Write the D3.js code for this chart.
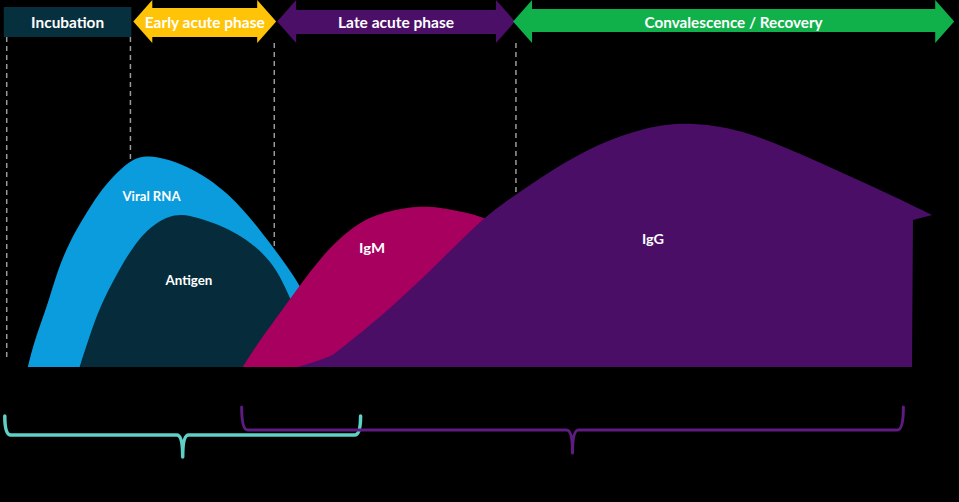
<!DOCTYPE html>
<html>
<head>
<meta charset="utf-8">
<script src="https://cdn.jsdelivr.net/npm/d3@7"></script>
<style>
  html, body { margin: 0; padding: 0; background: #000; }
  svg { display: block; }
  text { font-family: Lato, "Open Sans", sans-serif; font-weight: 700; fill: #fff; }
</style>
</head>
<body>
<svg id="chart" width="959" height="502"></svg>
<script>
// ---------- DATA (time units 0-100, level units 0-100) ----------
const seriesNames = ["Viral RNA", "Antigen", "IgM", "IgG"];

const viralRNA = [[2.9,0],[3.6,10.8],[4.9,24],[5.9,37.6],[7.3,50.8],[9.4,64],[10.6,71],[12.2,78],[13.9,83.5],[15.6,85],[19.5,81],[23.9,70],[27.6,52.5],[30.0,40],[31.3,32.5],[32.5,22.8]];
const viralRNATail = [[32.5,0]];

const antigen = [[8.3,0],[9.2,10.8],[10.4,24],[12.2,37.6],[14.3,50.8],[16.0,57],[17.7,60.5],[19.5,61.5],[24.3,55],[27.1,47],[28.9,38.8],[30.0,29.6],[31.3,18.8],[32.1,8.8]];
const antigenTail = [[32.1,0]];

const igM = [[25.3,0],[27.1,10.8],[29.2,21.6],[31.8,35.6],[34.4,48],[36.5,55],[38.6,60.5],[42.8,64.5],[45.9,64],[48.3,62],[50.4,60],[52.7,55.6]];
const igMTail = [[52.7,0]];

const igG = [[31.0,0],[32.8,2],[34.7,4.8],[34.7,4.8],[39.6,19.6],[44.8,38],[50.4,60],[53.8,69],[60.5,86.5],[67.5,96.5],[72.3,98],[77.9,94.5],[84.8,83],[91.8,70.8],[97.2,60.8],[97.2,60.8]];
const igGTail = [[95.2,58.8],[95.1,0]];

// phase header (time units)
const phaseNames = ["Incubation", "Early acute phase", "Late acute phase", "Convalescence / Recovery"];
const phaseStart = [0.4, 13.9, 28.9, 53.5];
const phaseEnd   = [13.7, 28.8, 53.7, 99.5];

// dashed phase boundaries (time units)
const boundaries = [0.7, 13.6, 28.6, 53.8];

// detection windows (brackets, time units)
const windowStart = [0.5, 25.2];
const windowEnd   = [37.6, 94.2];

// ---------- LAYOUT / STYLE ----------
const W = 959, H = 502;
const x = d3.scaleLinear().domain([0, 100]).range([0, W]);
const y = d3.scaleLinear().domain([0, 100]).range([367, 117]);

const seriesColors = ["#0A9CDC", "#062B3A", "#A8005F", "#4A0E67"];
const seriesLabelPos = [[15.8, 66.4], [19.7, 32.8], [38.8, 45.6], [68.1, 49.2]];
const seriesLabelWidth = [58, 47, 26, 22];

const phaseColors = ["#06303E", "#FFC408", "#4C0F68", "#10B14B"];
const phaseShaft = [[7, 37], [8, 37], [10, 34], [9, 32]];
const phaseTextWidth = [73, 120, 116, 178];

const svg = d3.select("#chart");
svg.append("rect").attr("width", W).attr("height", H).attr("fill", "#000");

// dashed lines (behind shapes)
const dashTop = [37, 37, 43, 43];
svg.append("g").selectAll("line").data(boundaries).join("line")
  .attr("x1", d => x(d)).attr("x2", d => x(d))
  .attr("y1", (d, i) => dashTop[i]).attr("y2", y(2.8))
  .attr("stroke", "#9A9A9A").attr("stroke-width", 1.5)
  .attr("stroke-dasharray", "5,4");

// areas
const line = d3.line().x(d => x(d[0])).y(d => y(d[1])).curve(d3.curveBasis);
function shape(pts, tail) {
  let p = line(pts);
  tail.forEach(t => { p += "L" + x(t[0]) + "," + y(t[1]); });
  return p + "Z";
}
const series = [[viralRNA, viralRNATail], [antigen, antigenTail], [igM, igMTail], [igG, igGTail]];
svg.append("g").selectAll("path").data(series).join("path")
  .attr("d", d => shape(d[0], d[1]))
  .attr("fill", (d, i) => seriesColors[i]);

svg.append("g").selectAll("text").data(seriesNames).join("text")
  .attr("x", (d, i) => x(seriesLabelPos[i][0]))
  .attr("y", (d, i) => y(seriesLabelPos[i][1]))
  .attr("text-anchor", "middle")
  .attr("font-size", 13.5)
  .attr("textLength", (d, i) => seriesLabelWidth[i])
  .attr("lengthAdjust", "spacingAndGlyphs")
  .text(d => d);

// phase header
const head = 19;
const hg = svg.append("g");
phaseNames.forEach((name, i) => {
  const x0 = x(phaseStart[i]), x1 = x(phaseEnd[i]);
  const [s0, s1] = phaseShaft[i];
  if (i === 0) {
    hg.append("rect").attr("x", x0).attr("y", s0).attr("width", x1 - x0).attr("height", s1 - s0)
      .attr("fill", phaseColors[i]);
  } else {
    const top = 0, bot = 43, mid = (top + bot) / 2;
    const pts = [[x0, mid], [x0 + head, top], [x0 + head, s0], [x1 - head, s0], [x1 - head, top],
                 [x1, mid], [x1 - head, bot], [x1 - head, s1], [x0 + head, s1], [x0 + head, bot]];
    hg.append("path").attr("d", "M" + pts.map(p => p.join(",")).join("L") + "Z")
      .attr("fill", phaseColors[i]);
  }
  hg.append("text")
    .attr("x", (x0 + x1) / 2).attr("y", 27.5)
    .attr("text-anchor", "middle").attr("font-size", 15)
    .attr("textLength", phaseTextWidth[i]).attr("lengthAdjust", "spacingAndGlyphs")
    .text(name);
});

// brackets
const bracketColors = ["#5ED0C5", "#5E1B82"];
const bracketTop = [416, 407], bracketMid = [435, 430], bracketTip = [457, 453], bracketW = [3.5, 3];
windowStart.forEach((s, i) => {
  const x0 = x(s), x1 = x(windowEnd[i]), cx = (x0 + x1) / 2;
  const t = bracketTop[i], h = bracketMid[i], tip = bracketTip[i];
  const p = `M${x0},${t} Q${x0},${h} ${x0 + 6},${h} L${cx - 6},${h} Q${cx},${h} ${cx},${tip} Q${cx},${h} ${cx + 6},${h} L${x1 - 6},${h} Q${x1},${h} ${x1},${t}`;
  svg.append("path").attr("d", p).attr("fill", "none")
    .attr("stroke", bracketColors[i]).attr("stroke-width", bracketW[i])
    .attr("stroke-linejoin", "round").attr("stroke-linecap", "round");
});
</script>
</body>
</html>
